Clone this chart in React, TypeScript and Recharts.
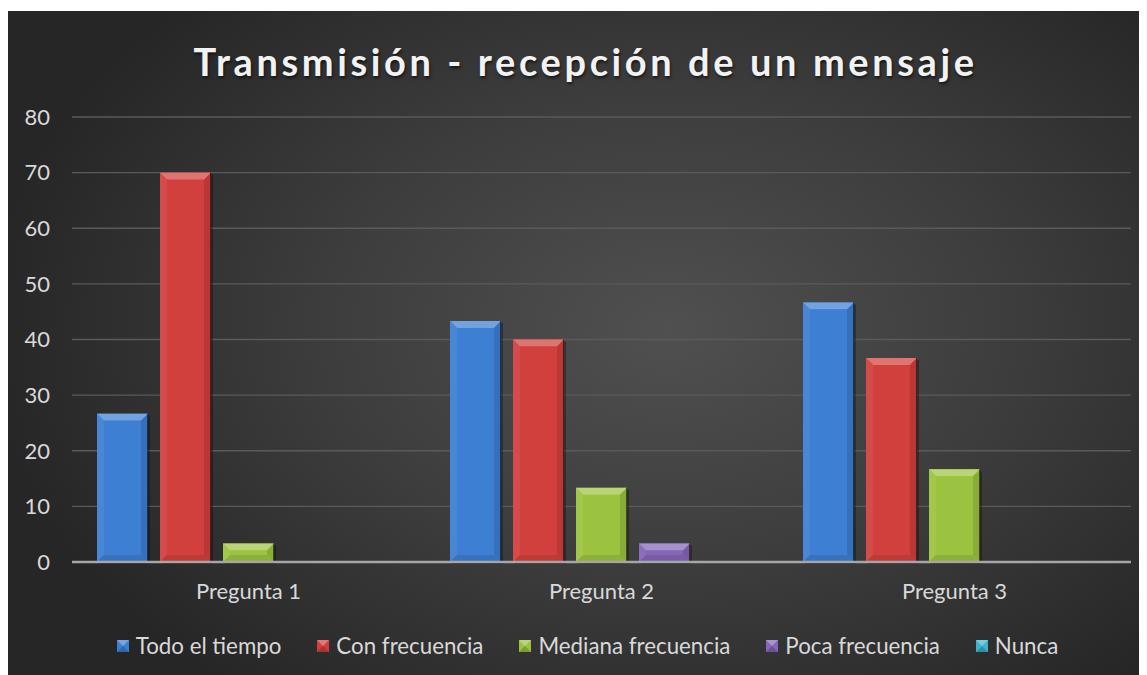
import React from 'react';
import { BarChart, Bar, XAxis, YAxis, CartesianGrid, Legend } from 'recharts';

const categories = ['Pregunta 1', 'Pregunta 2', 'Pregunta 3'];
const todoElTiempo = [26.67, 43.33, 46.67];
const conFrecuencia = [70, 40, 36.67];
const medianaFrecuencia = [3.33, 13.33, 16.67];
const pocaFrecuencia = [0, 3.33, 0];
const nunca = [0, 0, 0];
const yTicks = [0, 10, 20, 30, 40, 50, 60, 70, 80];

const seriesNames = ['Todo el tiempo', 'Con frecuencia', 'Mediana frecuencia', 'Poca frecuencia', 'Nunca'];
const seriesKeys = ['todo', 'con', 'mediana', 'poca', 'nunca'];
const seriesColors = ['#3d7fd3', '#d2403d', '#9cc33f', '#8566b8', '#3fb3cc'];
const seriesValues = [todoElTiempo, conFrecuencia, medianaFrecuencia, pocaFrecuencia, nunca];

const data = categories.map((c, i) => {
  const row: any = { name: c };
  seriesKeys.forEach((k, j) => { row[k] = seriesValues[j][i]; });
  return row;
});

function shade(hex: string, amt: number) {
  const n = parseInt(hex.slice(1), 16);
  let r = (n >> 16) & 255, g = (n >> 8) & 255, b = n & 255;
  const f = (v: number) => {
    const x = amt >= 0 ? v + (255 - v) * amt : v * (1 + amt);
    return Math.max(0, Math.min(255, Math.round(x)));
  };
  return `rgb(${f(r)},${f(g)},${f(b)})`;
}

const BevelBar = (props: any) => {
  const { x, y, width, height, fill } = props;
  if (!height || height <= 0) return null;
  const b = Math.min(7, height / 2, width / 2);
  const x2 = x + width, y2 = y + height;
  return (
    <g>
      <rect x={x + 2} y={y + 2} width={width} height={height} fill="rgba(0,0,0,0.3)" />
      <rect x={x} y={y} width={width} height={height} fill={fill} />
      <polygon points={`${x},${y} ${x2},${y} ${x2 - b},${y + b} ${x + b},${y + b}`} fill={shade(fill, 0.28)} />
      <polygon points={`${x},${y} ${x + b},${y + b} ${x + b},${y2 - b} ${x},${y2}`} fill={shade(fill, 0.06)} />
      <polygon points={`${x2},${y} ${x2},${y2} ${x2 - b},${y2 - b} ${x2 - b},${y + b}`} fill={shade(fill, -0.12)} />
      <polygon points={`${x},${y2} ${x2},${y2} ${x2 - b},${y2 - b} ${x + b},${y2 - b}`} fill={shade(fill, -0.1)} />
      <rect x={x + b} y={y + b} width={Math.max(0, width - 2 * b)} height={Math.max(0, height - 2 * b)} fill={fill} />
      <rect x={x2 - 1} y={y} width={1} height={height} fill="rgba(0,0,0,0.55)" />
    </g>
  );
};

const LegendContent = () => (
  <div style={{ display: 'flex', justifyContent: 'center', alignItems: 'center', paddingLeft: 36, fontFamily: 'Lato', fontSize: 22.3, color: '#d9d9d9' }}>
    {seriesNames.map((n, i) => (
      <div key={n} style={{ display: 'flex', alignItems: 'center', marginRight: i < 4 ? 36 : 0 }}>
        <svg width={12} height={12} style={{ marginRight: 7 }}>
          <rect x={0} y={0} width={12} height={12} fill={seriesColors[i]} />
          <polygon points="0,0 12,0 6,6" fill={shade(seriesColors[i], 0.3)} />
          <polygon points="0,12 12,12 6,6" fill={shade(seriesColors[i], -0.2)} />
        </svg>
        <span>{n}</span>
      </div>
    ))}
  </div>
);

export default function App() {
  return (
    <div style={{ marginTop: 3, width: 1139, height: 664, position: 'relative',
      background: 'radial-gradient(ellipse 60% 70% at 58% 48%, #505050 0%, #3d3d3d 50%, #262626 100%)' }}>
      <div style={{ position: 'absolute', left: 8, top: 28, width: 1139, textAlign: 'center',
        fontFamily: 'Lato', fontWeight: 700, fontSize: 38, letterSpacing: 3.6, color: '#f2f2f2',
        textShadow: '1px 2px 3px rgba(0,0,0,0.6)', lineHeight: '44px' }}>
        Transmisión - recepción de un mensaje
      </div>
      <BarChart width={1139} height={664} data={data}
        margin={{ top: 106, right: 16, left: 0, bottom: 56 }}
        barCategoryGap={25} barGap={12}>
        <CartesianGrid vertical={false} stroke="#5a5a5a" strokeWidth={1.3} />
        <YAxis domain={[0, 80]} ticks={yTicks} width={64} axisLine={false} tickLine={false}
          tickSize={0} tickMargin={22}
          tick={{ fill: '#d9d9d9', fontSize: 22, fontFamily: 'Lato' }} />
        <XAxis dataKey="name" axisLine={{ stroke: '#a6a6a6', strokeWidth: 2.5 }} tickLine={false}
          tickSize={0} tickMargin={21}
          tick={{ fill: '#d9d9d9', fontSize: 22, fontFamily: 'Lato' }} />
        <Legend verticalAlign="bottom" wrapperStyle={{ bottom: 16 }} content={<LegendContent />} />
        {seriesKeys.map((k, i) => (
          <Bar key={k} dataKey={k} name={seriesNames[i]} fill={seriesColors[i]}
            shape={<BevelBar />} isAnimationActive={false} />
        ))}
      </BarChart>
    </div>
  );
}
